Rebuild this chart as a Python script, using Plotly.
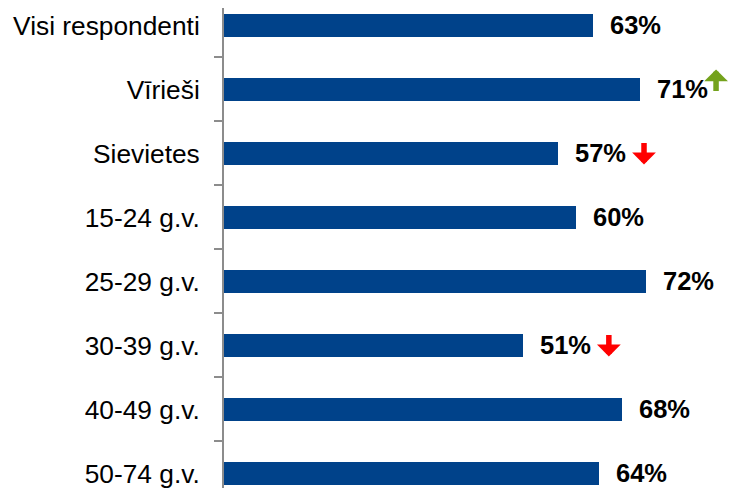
import plotly.graph_objects as go

categories = ["Visi respondenti", "Vīrieši", "Sievietes", "15-24 g.v.", "25-29 g.v.",
              "30-39 g.v.", "40-49 g.v.", "50-74 g.v."]
values = [63, 71, 57, 60, 72, 51, 68, 64]
labels = ["63%", "71%", "57%", "60%", "72%", "51%", "68%", "64%"]
trend = ["", "up", "down", "", "", "down", "", ""]

BAR = "#00428A"
FONT = "Liberation Sans, Arial, sans-serif"

fig = go.Figure()
fig.add_trace(go.Bar(
    x=values, y=categories, orientation="h",
    marker=dict(color=BAR, line=dict(width=0)),
    width=0.36, hoverinfo="skip",
))

annotations = []
for c, v, t, tr in zip(categories, values, labels, trend):
    annotations.append(dict(
        x=v, y=c, xref="x", yref="y", text=t, showarrow=False,
        xanchor="left", yanchor="middle", xshift=15, yshift=0,
        font=dict(family=FONT, size=25.5, color="#000000", weight="bold"),
    ))
    if tr == "up":
        annotations.append(dict(
            x=v, y=c, xref="x", yref="y", text="", showarrow=True,
            xshift=76, yshift=20, ax=0, ay=23, axref="pixel", ayref="pixel",
            arrowhead=1, arrowwidth=5.5, arrowsize=0.72, arrowcolor="#74A21C",
            standoff=0, startstandoff=0,
        ))
    elif tr == "down":
        annotations.append(dict(
            x=v, y=c, xref="x", yref="y", text="", showarrow=True,
            xshift=86, yshift=-11, ax=0, ay=-23, axref="pixel", ayref="pixel",
            arrowhead=1, arrowwidth=5.5, arrowsize=0.72, arrowcolor="#FF0000",
            standoff=0, startstandoff=0,
        ))

fig.update_layout(
    width=736, height=488,
    margin=dict(l=216, r=0, t=0, b=0, autoexpand=False),
    paper_bgcolor="white", plot_bgcolor="white",
    showlegend=False, bargap=0,
    annotations=annotations,
    xaxis=dict(range=[0, 88.74], visible=False, showgrid=False, zeroline=False,
               automargin=False),
    yaxis=dict(
        type="category", range=[7.352, -0.273], automargin=False,
        showline=True, linecolor="#8C8C8C", linewidth=2,
        ticks="outside", ticklen=8, tickwidth=2, tickcolor="#8C8C8C",
        tickson="boundaries", showgrid=False,
        ticklabelstandoff=17,
        tickfont=dict(family=FONT, size=26.3, color="#000000"),
    ),
)

fig.write_html("out.html")
